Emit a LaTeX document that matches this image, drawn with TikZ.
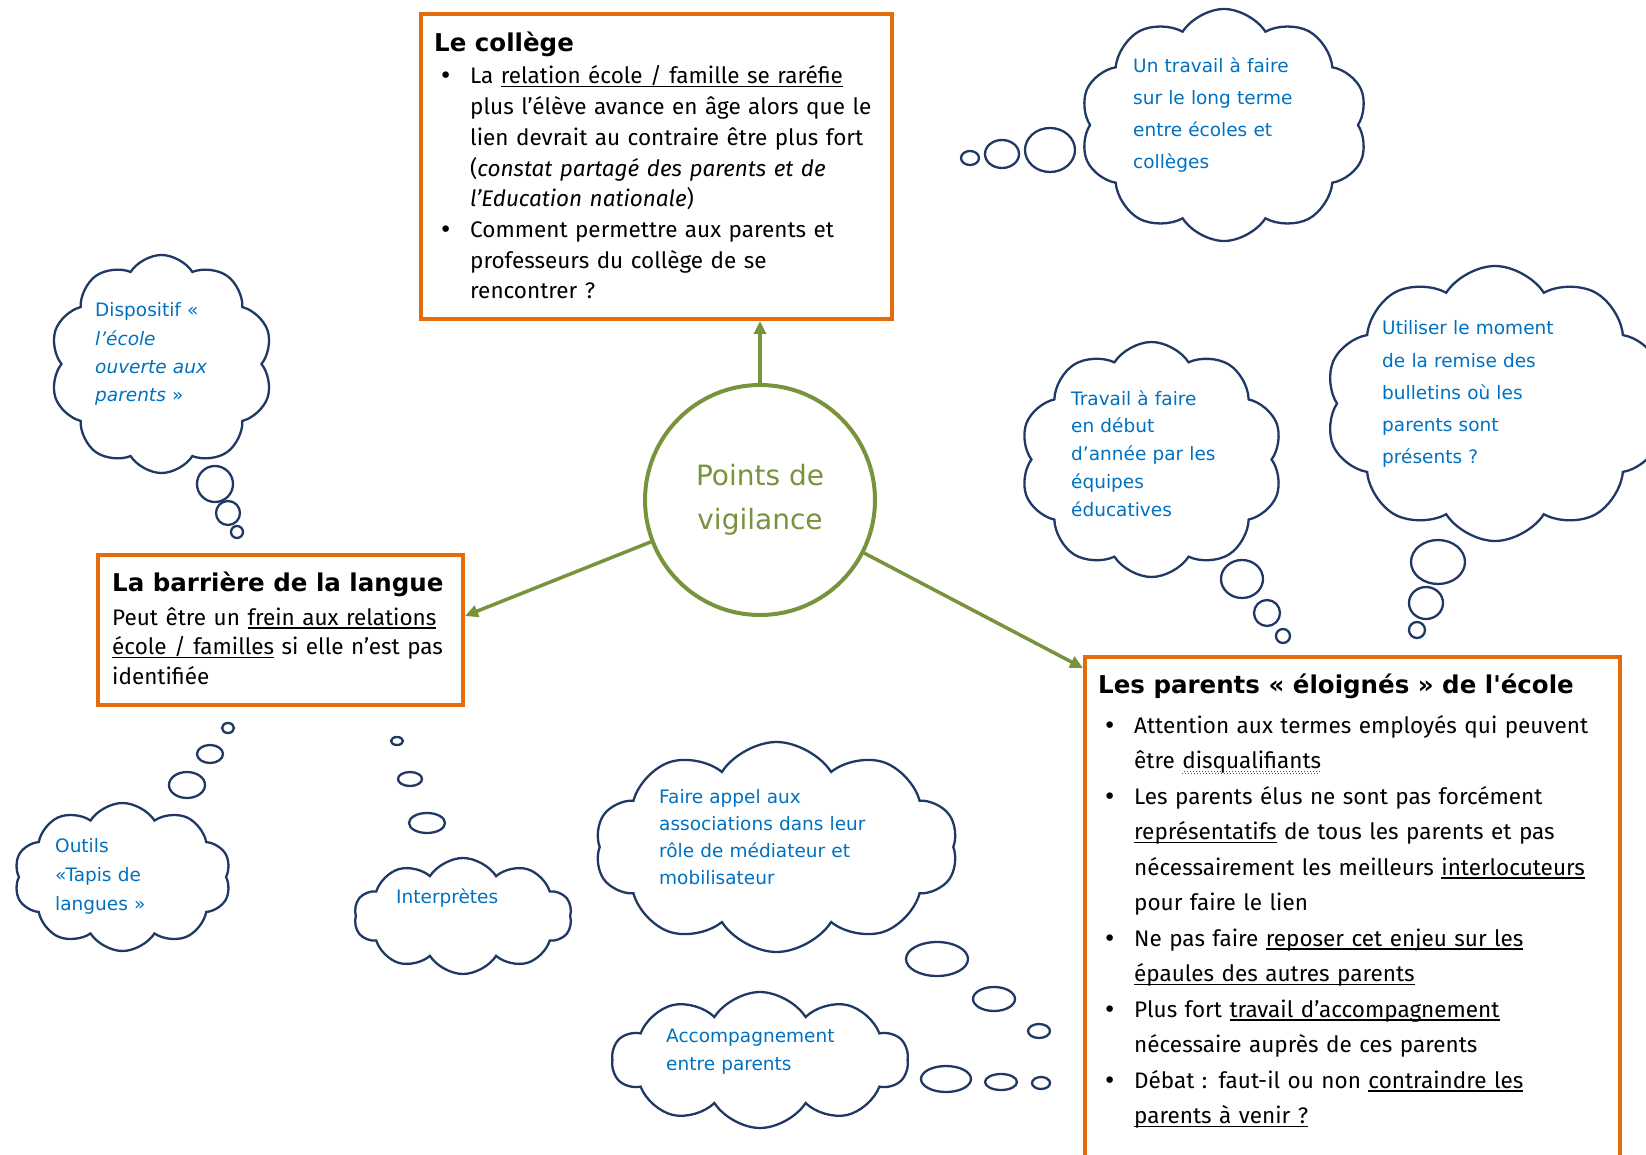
\documentclass[tikz,border=0pt]{standalone}
\usepackage{fontspec}
\setmainfont{Fira Sans}
\newfontfamily\comic{DejaVu Sans}
\usetikzlibrary{arrows.meta,shapes.symbols}

\definecolor{boxorange}{HTML}{E46C0A}
\definecolor{olivegreen}{HTML}{77933C}
\definecolor{cloudline}{HTML}{1F3864}
\definecolor{cloudtext}{HTML}{0070C0}

\newsavebox{\soulbox}
\newcommand{\souligne}[1]{\leavevmode\sbox{\soulbox}{#1}%
  \rlap{\rule[-3.5pt]{\wd\soulbox}{1.3pt}}\usebox{\soulbox}}
\newcommand{\redwave}[1]{\leavevmode\sbox{\soulbox}{#1}%
  \rlap{\raisebox{-5pt}{\color{red}\makebox[\wd\soulbox][l]{\leaders\hbox to 3pt{\rule{1pt}{1pt}\hfil\rule[1.2pt]{1pt}{1pt}\hfil}\hfill}}}%
  \usebox{\soulbox}}
\newcommand{\bul}{\makebox[31pt][l]{\comic\textbullet}}
\newcommand{\ind}{\hspace*{31pt}}

\begin{document}
\begin{tikzpicture}[x=1pt, y=-1pt,
    panel/.style={draw=boxorange, line width=4pt, fill=white, anchor=north west, inner sep=0pt},
    boxtitle/.style={anchor=base west, inner sep=0pt, font=\comic\bfseries\fontsize{24.5}{30}\selectfont},
    body/.style={anchor=base west, inner sep=0pt, align=left, text width=540pt,
      font=\fontsize{22.5}{#1}\selectfont},
    hub/.style={circle, draw=olivegreen, line width=4pt, minimum size=230pt, align=center,
      text=olivegreen, font=\comic\fontsize{28}{44}\selectfont},
    arr/.style={draw=olivegreen, line width=3.5pt, -{Triangle[length=13pt,width=12pt]}},
    thought/.style={cloud, draw=cloudline, line width=2.3pt, cloud puffs=10, cloud puff arc=115,
      cloud ignores aspect, inner sep=0pt},
    idea/.style={anchor=base west, inner sep=0pt, align=left, text=cloudtext, text width=260pt,
      font=\comic\fontsize{18.5}{#1}\selectfont},
    bubble/.style={draw=cloudline, line width=2.3pt},
  ]
    \useasboundingbox (0,0) rectangle (1646,1155);
    \clip (0,0) rectangle (1646,1155);

    % central topic
    \node[hub] (vigilance) at (760,500) {Points de\\vigilance};

    % Le collège
    \node[panel, minimum width=471pt, minimum height=305pt] (college) at (419,12) {};
    \node[boxtitle] (collegetitle) at (434,52) {Le collège};
    \node[body=30.7] (collegetext) at (439,84)
      {\bul La \souligne{relation école / famille se raréfie}\\
       \ind plus l'élève avance en âge alors que le\\
       \ind lien devrait au contraire être plus fort\\
       \ind (\textit{constat partagé des parents et de}\\
       \ind \textit{l'Education nationale})\\
       \bul Comment permettre aux parents et\\
       \ind professeurs du collège de se\\
       \ind rencontrer ?};

    % La barrière de la langue
    \node[panel, minimum width=365pt, minimum height=150pt] (barriere) at (96,553) {};
    \node[boxtitle] (barrieretitle) at (112,591) {La barrière de la langue};
    \node[body=29.5] (barrieretext) at (112,625)
      {Peut être un \souligne{frein aux relations}\\
       \souligne{école / familles} si elle n'est pas\\
       identifiée};

    % Les parents éloignés
    \node[panel, minimum width=535pt, minimum height=560pt] (parents) at (1083,655) {};
    \node[boxtitle] (parentstitle) at (1098,693) {Les parents « éloignés » de l'école};
    \node[body=35.5] (parentstext) at (1103,733)
      {\bul Attention aux termes employés qui peuvent\\
       \ind être \redwave{disqualifiants}\\
       \bul Les parents élus ne sont pas forcément\\
       \ind \souligne{représentatifs} de tous les parents et pas\\
       \ind nécessairement les meilleurs \souligne{interlocuteurs}\\
       \ind pour faire le lien\\
       \bul Ne pas faire \souligne{reposer cet enjeu sur les}\\
       \ind \souligne{épaules des autres parents}\\
       \bul Plus fort \souligne{travail d'accompagnement}\\
       \ind nécessaire auprès de ces parents\\
       \bul Débat : faut-il ou non \souligne{contraindre les}\\
       \ind \souligne{parents à venir ?}};

    \draw[arr] (vigilance.north) -- (vigilance.north |- college.south);
    \draw[arr] (vigilance.201) -- ([yshift=14pt]barriere.east);
    \draw[arr] (vigilance.333) -- ([yshift=-13pt]parents.north west);

    % thought clouds
    \node[thought, minimum width=288pt, minimum height=232pt] (longterme) at (1224,125) {};
    \node[idea=31.7] (longtermetxt) at (1133,73)
      {Un travail à faire\\sur le long terme\\entre écoles et\\collèges};
    \node[thought, minimum width=223pt, minimum height=218pt] (dispositif) at (161.5,364) {};
    \node[idea=28.3] (dispositiftxt) at (95,317)
      {Dispositif «\\\textit{l’école}\\\textit{ouverte aux}\\\textit{parents} »};
    \node[thought, minimum width=263pt, minimum height=235pt] (rentree) at (1151.5,459.5) {};
    \node[idea=27.8] (rentreetxt) at (1071,405)
      {Travail à faire\\en début\\d’année par les\\équipes\\éducatives};
    \node[thought, minimum width=340pt, minimum height=275pt] (bulletins) at (1495,403.5) {};
    \node[idea=32.2] (bulletinstxt) at (1382,335)
      {Utiliser le moment\\de la remise des\\bulletins où les\\parents sont\\présents ?};
    \node[thought, minimum width=217pt, minimum height=148pt] (tapis) at (122.5,877) {};
    \node[idea=29] (tapistxt) at (55,852) {Outils\\«Tapis de\\langues »};
    \node[thought, minimum width=218pt, minimum height=116pt] (interpretes) at (463,916) {};
    \node[idea=28] (interpretestxt) at (396,903) {Interprètes};
    \node[thought, minimum width=363pt, minimum height=210pt] (associations) at (776.5,847) {};
    \node[idea=27.3] (associationstxt) at (659,803)
      {Faire appel aux\\associations dans leur\\rôle de médiateur et\\mobilisateur};
    \node[thought, minimum width=296pt, minimum height=136pt] (entraide) at (760,1060) {};
    \node[idea=28] (entraidetxt) at (666,1042) {Accompagnement\\entre parents};

    % thought bubbles
    \foreach \x/\y/\a/\b in {970/158/9/7, 1002/154/17/14, 1050/150/25/22,
        215/484/18/18, 228/513/12/12, 237/532/6/6,
        1242/579/21/19, 1267/613/13/13, 1283/636/7/7,
        1438/562/27/22, 1426/603/17/16, 1417/630/8/8,
        187/785/18/13, 210/754/13/9, 228/728/6/5,
        427/823/18/10, 410/779/12/7, 397/741/6/4,
        937/959/31/17, 994/999/21/12, 1039/1031/11/7,
        946/1079/25/13, 1001/1082/16/8, 1041/1083/9/6}
      \draw[bubble] (\x,\y) ellipse[x radius=\a, y radius=\b];
\end{tikzpicture}
\end{document}
